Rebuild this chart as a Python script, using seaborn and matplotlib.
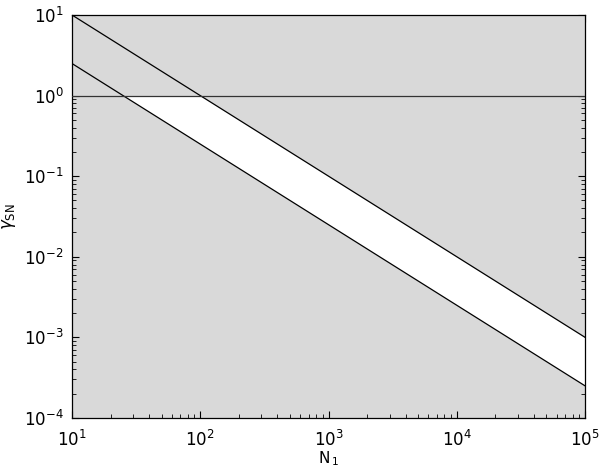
import matplotlib
matplotlib.use("Agg")
import matplotlib.pyplot as plt
import seaborn as sns
import pandas as pd

# values (slope -1 lines in log-log)
n1 = [10, 1e5]
upper = [10, 1e-3]
lower = [2.5, 2.5e-4]
threshold = 1.0

sns.set_style("ticks")
plt.rcParams['font.family'] = ['DejaVu Sans']

df = pd.DataFrame({'N': n1 * 2, 'gamma': upper + lower,
                   'line': ['upper'] * 2 + ['lower'] * 2})

fig = plt.figure(figsize=(6, 4.69), dpi=100)
ax = fig.add_axes([0.12, 0.109, 0.855, 0.859])
ax.set_facecolor('#d9d9d9')

ax.set_xscale('log')
ax.set_yscale('log')

# allowed band is white, everything above 1 is shaded again
ax.fill_between(n1, lower, upper, color='white', lw=0, zorder=1)
ax.axhspan(threshold, 10, color='#d9d9d9', lw=0, zorder=1.5)

sns.lineplot(data=df, x='N', y='gamma', units='line', estimator=None,
             color='black', lw=0.9, ax=ax, zorder=3)
ax.axhline(threshold, color='#333333', lw=0.9, zorder=3)

ax.set_xlim(10, 1e5)
ax.set_ylim(1e-4, 10)
ax.set_xlabel(r'N$_{\,1}$', fontsize=11, labelpad=-1, color='black')
ax.set_ylabel(r'$\gamma_{\rm SN}$', fontsize=12, labelpad=4, color='black')

ax.tick_params(which='both', direction='in', top=True, right=True,
               labelsize=12, labelcolor='black', color='black')
ax.tick_params(axis='x', which='major', pad=9)
ax.tick_params(axis='y', which='major', pad=6)
ax.tick_params(which='major', length=5)
ax.tick_params(which='minor', length=3)
for s in ax.spines.values():
    s.set_color('black')
    s.set_linewidth(0.9)

fig.savefig('out.png', dpi=100)
